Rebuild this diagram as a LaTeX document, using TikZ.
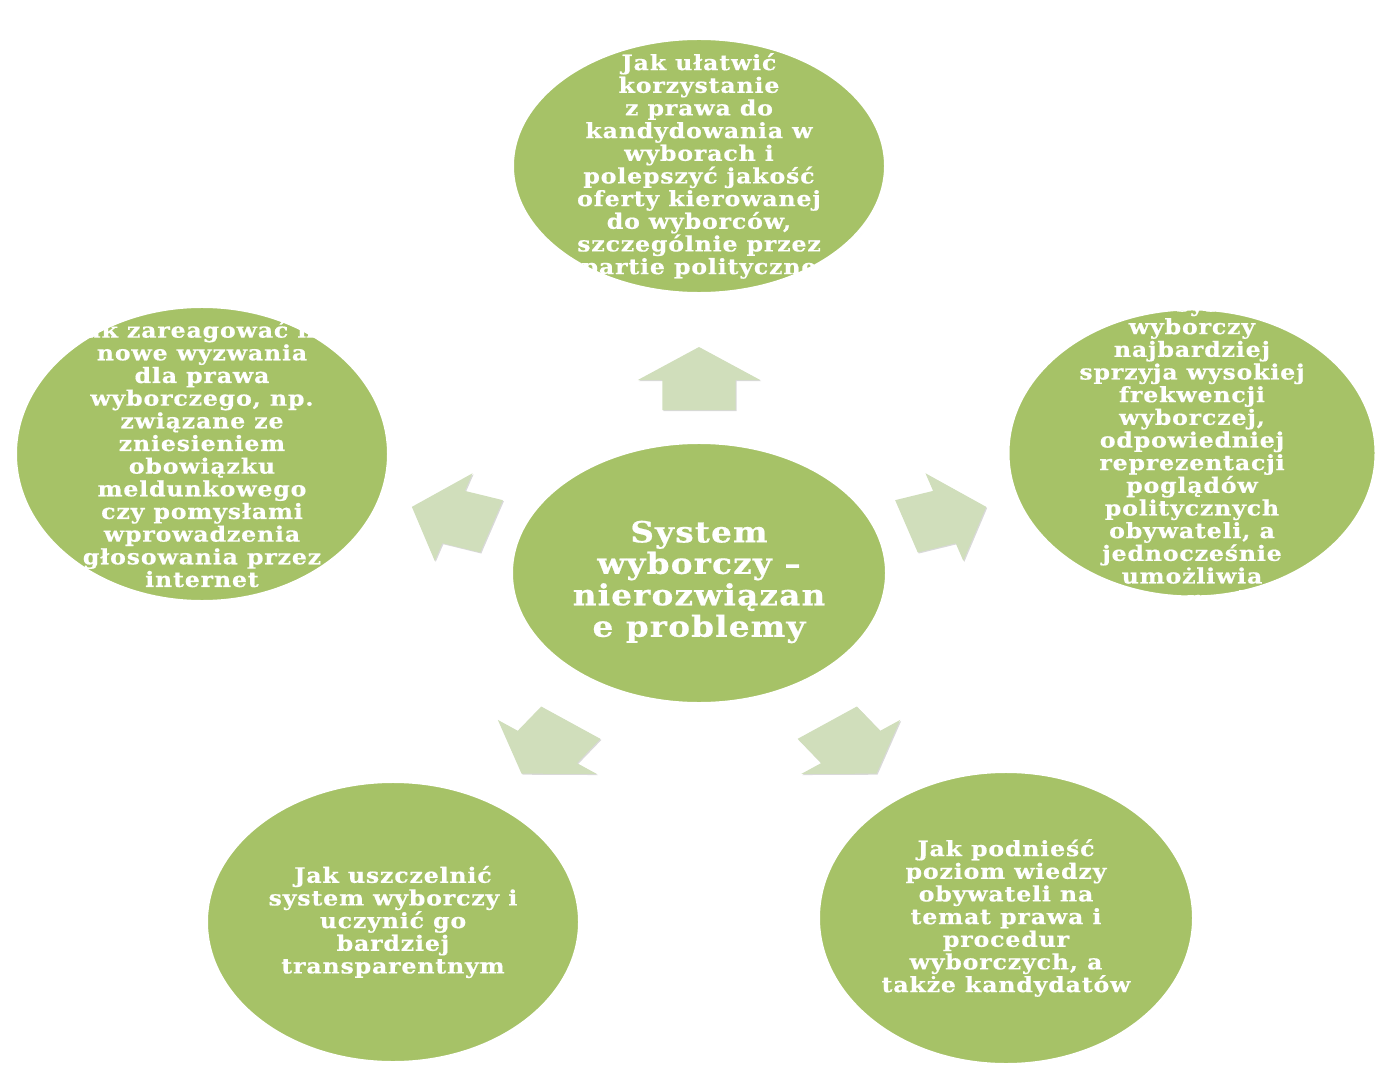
\documentclass[tikz,border=0pt]{standalone}
\usepackage{fontspec}
\usepackage{tikz}
\usetikzlibrary{shapes.geometric,shadows}
\newfontfamily\bubblefont[FakeStretch=1.12,LetterSpace=4,BoldFeatures={FakeBold=0.6}]{DejaVu Serif}
\definecolor{bubblegreen}{RGB}{166,194,103}
\definecolor{arrowgreen}{RGB}{208,222,187}
\tikzset{
    %Define style for the green circles
    bubblenode/.style={
             ellipse,
             fill=bubblegreen,
             draw=white, line width=2.8pt,
             drop shadow={opacity=0.35, shadow xshift=0.7pt, shadow yshift=-0.7pt}},
    %Define style for the texts in the circles
    bubbletext/.style={
             text=white, align=center, inner sep=0pt,
             font=\bubblefont\bfseries\fontsize{12}{12.9}\selectfont},
    % Define style for the block arrows
    blockarrow/.style={
             fill=arrowgreen,
             drop shadow={opacity=0.3, shadow xshift=0.6pt, shadow yshift=-0.6pt}}
}
\begin{document}
\begin{tikzpicture}[x=0.02cm, y=-0.02cm]
 \useasboundingbox (0,0) rectangle (1383,1071);
 % circles
 \node[bubblenode, minimum width=7.5cm, minimum height=5.14cm] (top) at (699,166) {};
 \node[bubblenode, minimum width=7.5cm, minimum height=5.94cm] (left) at (202,454) {};
 \node[bubblenode, minimum width=7.4cm, minimum height=5.8cm] (right) at (1192,453) {};
 \node[bubblenode, minimum width=7.54cm, minimum height=5.26cm] (center) at (699,573) {};
 \node[bubblenode, minimum width=7.5cm, minimum height=5.66cm] (botleft) at (393,922) {};
 \node[bubblenode, minimum width=7.54cm, minimum height=5.9cm] (botright) at (1006,918) {};
 % block arrows
 \begin{scope}[shift={(699,574)}, xscale=1.33]
  \foreach \a/\dy in {18/3,90/0,162/3,234/16,306/16}
   \fill[blockarrow, shift={(0,\dy)}, rotate=\a] (164,-27.5) -- (194,-27.5) -- (194,-46) -- (227,0)
        -- (194,46) -- (194,27.5) -- (164,27.5) -- cycle;
 \end{scope}
 % texts
 \node[bubbletext] (toptext) at (top) {Jak ułatwić\\korzystanie\\z prawa do\\kandydowania w\\wyborach i\\polepszyć jakość\\oferty kierowanej\\do wyborców,\\szczególnie przez\\partie polityczne};
 \node[bubbletext] (lefttext) at (left) {Jak zareagować na\\nowe wyzwania\\dla prawa\\wyborczego, np.\\związane ze\\zniesieniem\\obowiązku\\meldunkowego\\czy pomysłami\\wprowadzenia\\głosowania przez\\internet};
 \node[bubbletext] (righttext) at (right) {Jaki system\\wyborczy\\najbardziej\\sprzyja wysokiej\\frekwencji\\wyborczej,\\odpowiedniej\\reprezentacji\\poglądów\\politycznych\\obywateli, a\\jednocześnie\\umożliwia\\sprawne rządzenie};
 \node[bubbletext, font=\bubblefont\bfseries\fontsize{16.6}{17.9}\selectfont] (centertext) at ([yshift=-0.18cm]center) {System\\wyborczy –\\nierozwiązan\\e problemy};
 \node[bubbletext] (botlefttext) at (botleft) {Jak uszczelnić\\system wyborczy i\\uczynić go\\bardziej\\transparentnym};
 \node[bubbletext] (botrighttext) at (botright) {Jak podnieść\\poziom wiedzy\\obywateli na\\temat prawa i\\procedur\\wyborczych, a\\także kandydatów};
\end{tikzpicture}
\end{document}
